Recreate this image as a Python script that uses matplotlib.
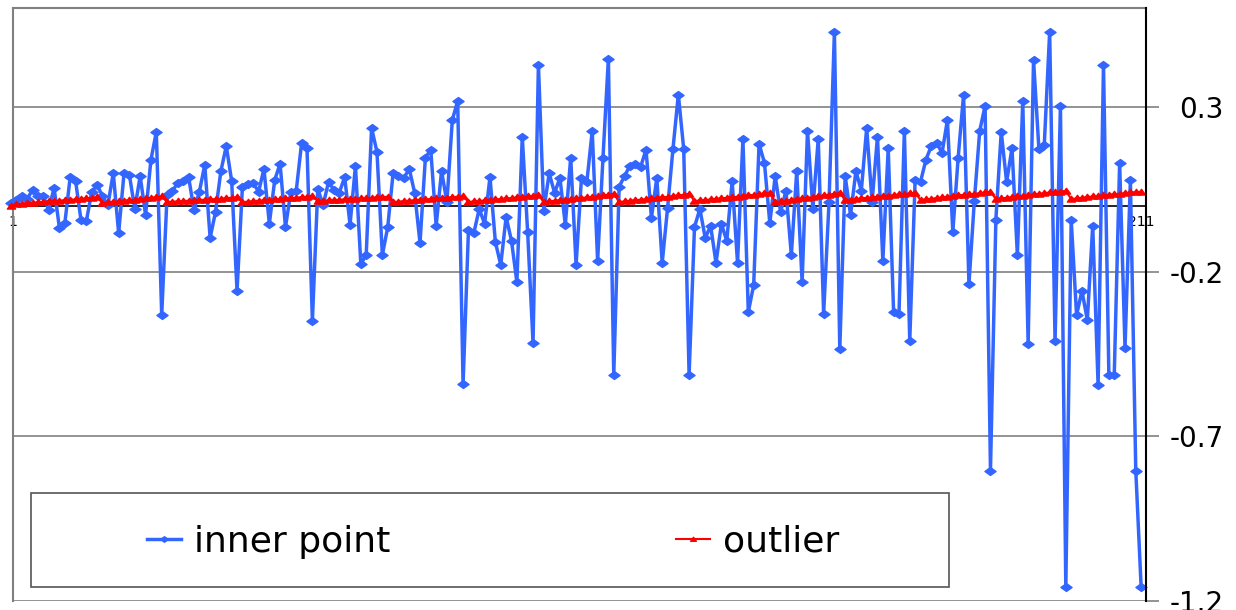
import matplotlib
matplotlib.use("Agg")
import matplotlib.pyplot as plt
from matplotlib.patches import Rectangle
from matplotlib.path import Path

plt.rcParams['font.family'] = ['DejaVu Sans']
plt.rcParams['axes.unicode_minus'] = False

inner_point = [
    0.008, 0.017, 0.029, 0.020, 0.048, 0.029, 0.029, -0.013, 0.054, -0.068,
    -0.053, 0.087, 0.075, -0.043, -0.047, 0.042, 0.063, 0.029, 0.002, 0.099,
    -0.083, 0.099, 0.093, -0.010, 0.090, -0.028, 0.139, 0.224, -0.332, 0.033,
    0.045, 0.069, 0.075, 0.087, -0.013, 0.042, 0.124, -0.098, -0.019, 0.105,
    0.181, 0.075, -0.259, 0.057, 0.066, 0.069, 0.042, 0.112, -0.055, 0.078,
    0.127, -0.065, 0.042, 0.045, 0.191, 0.175, -0.350, 0.051, 0.002, 0.072,
    0.048, 0.039, 0.087, -0.058, 0.121, -0.177, -0.150, 0.236, 0.163, -0.150,
    -0.065, 0.099, 0.090, 0.084, 0.112, 0.039, -0.113, 0.146, 0.170, -0.061,
    0.105, 0.011, 0.260, 0.318, -0.542, -0.074, -0.083, -0.010, -0.055, 0.087,
    -0.110, -0.180, -0.034, -0.107, -0.232, 0.209, -0.080, -0.417, 0.428, -0.016,
    0.099, 0.039, 0.084, -0.058, 0.146, -0.180, 0.084, 0.072, 0.227, -0.168,
    0.146, 0.446, -0.514, 0.057, 0.090, 0.121, 0.127, 0.118, 0.170, -0.037,
    0.084, -0.174, -0.007, 0.172, 0.337, 0.172, -0.514, -0.065, -0.010, -0.098,
    -0.061, -0.174, -0.055, -0.107, 0.075, -0.174, 0.203, -0.323, -0.241, 0.188,
    0.130, -0.053, 0.090, -0.019, 0.045, -0.150, 0.105, -0.232, 0.227, -0.010,
    0.203, -0.329, 0.011, 0.528, -0.436, 0.090, -0.028, 0.105, 0.045, 0.236,
    0.011, 0.209, -0.168, 0.175, -0.323, -0.329, 0.227, -0.411, 0.078, 0.072,
    0.139, 0.181, 0.191, 0.160, 0.260, -0.080, 0.146, 0.337, -0.238, 0.014,
    0.227, 0.303, -0.804, -0.043, 0.224, 0.072, 0.175, -0.150, 0.318, -0.420,
    0.443, 0.172, 0.185, 0.528, -0.411, 0.303, -1.159, -0.043, -0.332, -0.259,
    -0.347, -0.061, -0.545, 0.428, -0.514, -0.514, 0.130, -0.432, 0.078, -0.804,
    -1.159,
]

outlier = [
    0.000, 0.004, 0.006, 0.008, 0.009, 0.010, 0.012, 0.013, 0.014, 0.015,
    0.017, 0.018, 0.019, 0.021, 0.022, 0.024, 0.026,
    0.008, 0.010, 0.012, 0.013, 0.015, 0.017, 0.018, 0.020, 0.022, 0.024,
    0.026, 0.028,
    0.011, 0.012, 0.013, 0.014, 0.015, 0.016, 0.017, 0.018, 0.019, 0.020,
    0.021, 0.023, 0.024, 0.026,
    0.011, 0.012, 0.014, 0.015, 0.016, 0.018, 0.019, 0.020, 0.022, 0.023,
    0.024, 0.026, 0.027, 0.029,
    0.014, 0.015, 0.016, 0.017, 0.018, 0.019, 0.020, 0.021, 0.022, 0.023,
    0.024, 0.025, 0.026, 0.027,
    0.011, 0.012, 0.014, 0.015, 0.017, 0.018, 0.019, 0.020, 0.022, 0.023,
    0.024, 0.026, 0.027, 0.029,
    0.011, 0.013, 0.014, 0.016, 0.017, 0.019, 0.020, 0.022, 0.023, 0.025,
    0.026, 0.028, 0.030, 0.032,
    0.011, 0.013, 0.015, 0.017, 0.018, 0.020, 0.022, 0.023, 0.025, 0.027,
    0.029, 0.031, 0.033, 0.036,
    0.011, 0.013, 0.015, 0.017, 0.018, 0.020, 0.022, 0.024, 0.025, 0.027,
    0.029, 0.031, 0.033, 0.036,
    0.014, 0.016, 0.017, 0.019, 0.021, 0.022, 0.024, 0.026, 0.027, 0.029,
    0.031, 0.033, 0.035, 0.037, 0.039,
    0.011, 0.013, 0.015, 0.018, 0.020, 0.022, 0.024, 0.026, 0.029, 0.031,
    0.033, 0.036, 0.039,
    0.017, 0.018, 0.020, 0.022, 0.024, 0.025, 0.027, 0.029, 0.030, 0.032,
    0.034, 0.035, 0.037, 0.039,
    0.017, 0.019, 0.021, 0.023, 0.025, 0.027, 0.029, 0.031, 0.033, 0.034,
    0.036, 0.038, 0.040, 0.042,
    0.020, 0.022, 0.024, 0.026, 0.028, 0.030, 0.032, 0.034, 0.036, 0.038,
    0.040, 0.041, 0.043, 0.045,
    0.020, 0.022, 0.024, 0.026, 0.028, 0.029, 0.031, 0.033, 0.035, 0.036,
    0.038, 0.040, 0.041, 0.042,
]

series_names = ["inner point", "outlier"]
y_ticks = [-1.2, -0.7, -0.2, 0.3]
x_tick_labels = ["1", "211"]

x = list(range(1, len(inner_point) + 1))

W, H = 1236, 610
fig = plt.figure(figsize=(W / 100, H / 100), dpi=100)
L, R, T, B = 13, 1146, 8, 601
ax = fig.add_axes([L / W, 1 - B / H, (R - L) / W, (B - T) / H])

blue = "#3366FF"
red = "#FF0000"
diamond = Path([(-1.4, 0), (0, 1), (1.4, 0), (0, -1), (-1.4, 0)],
               [Path.MOVETO, Path.LINETO, Path.LINETO, Path.LINETO, Path.CLOSEPOLY])
tri = Path([(-1.3, -0.8), (1.3, -0.8), (0, 1.0), (-1.3, -0.8)],
           [Path.MOVETO, Path.LINETO, Path.LINETO, Path.CLOSEPOLY])

l1, = ax.plot(x, inner_point, color=blue, lw=2.5, marker=diamond, ms=8,
              mec=blue, mfc=blue, clip_on=False, zorder=3, label=series_names[0])
l2, = ax.plot(x, outlier, color=red, lw=1.5, marker=tri, ms=6,
              mec=red, mfc=red, clip_on=False, zorder=4, label=series_names[1])

ax.set_xlim(1.37, 211.9)
ax.set_ylim(-1.2, 0.6)

# y axis on the right
ax.yaxis.tick_right()
ax.set_yticks(y_ticks)
ax.set_yticklabels([f"{v:.1f}" for v in y_ticks])
ax.tick_params(axis='y', which='both', length=9, width=1.2, color="#808080",
               labelsize=20, pad=47, labelcolor="black")
for lab in ax.get_yticklabels():
    lab.set_horizontalalignment('right')
ax.yaxis.grid(True, color="#808080", lw=1.2)
ax.set_axisbelow(True)

# x axis through zero
ax.spines['bottom'].set_position(('data', 0))
ax.spines['bottom'].set_color('black')
ax.spines['bottom'].set_linewidth(1.2)
ax.set_xticks([1.37, 211])
ax.set_xticklabels(x_tick_labels)
ax.tick_params(axis='x', length=0, labelsize=10, pad=7)

ax.spines['left'].set_color("#808080")
ax.spines['left'].set_linewidth(1.5)
ax.spines['top'].set_color("#808080")
ax.spines['top'].set_linewidth(1.5)
ax.spines['right'].set_color("black")
ax.spines['right'].set_linewidth(1.5)
ax.spines['right'].set_zorder(5)

# legend box
bx0, by0, bx1, by1 = 31, 493, 949, 587
ax.add_patch(Rectangle(((bx0 - L) / (R - L), (B - by1) / (B - T)),
                       (bx1 - bx0) / (R - L), (by1 - by0) / (B - T),
                       transform=ax.transAxes, fill=True, fc="white",
                       ec="#555555", lw=1.2, zorder=6, clip_on=False))
leg = ax.legend(handles=[l1, l2], loc='center', ncol=2, frameon=False,
                bbox_to_anchor=((493 - L) / (R - L),
                                (B - 542) / (B - T)),
                fontsize=26, handlelength=0.95, handletextpad=0.36,
                columnspacing=7.9, markerscale=0.7)
leg.set_zorder(7)

fig.savefig("out.png", dpi=100)
